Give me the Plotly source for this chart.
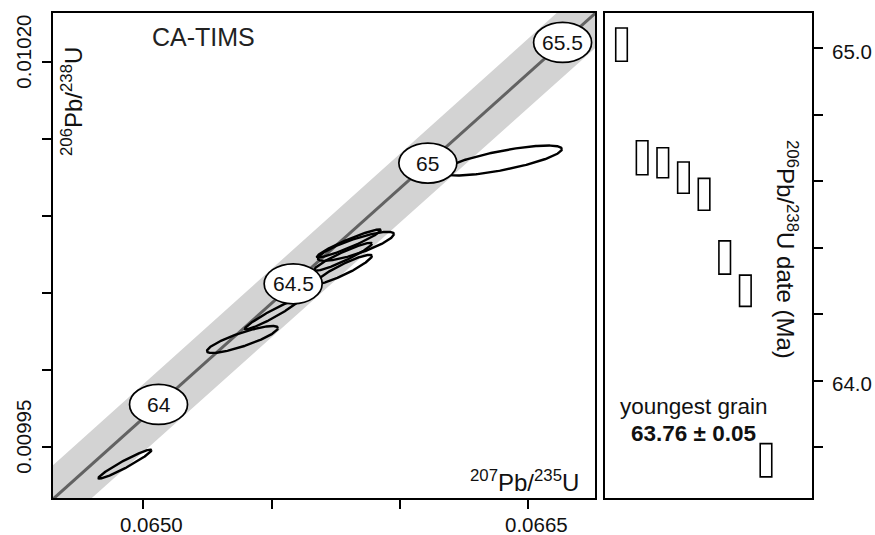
import numpy as np
import plotly.graph_objects as go

# Decay constants (1/yr) and concordia envelope
LAMBDA238 = 1.55125e-10
LAMBDA235 = 9.8485e-10
LAMBDA235_BAND = 0.0022          # relative half-width of the grey concordia envelope
K95 = 2.4477                     # 95% confidence scaling for 2-D error ellipses

# CA-TIMS zircon analyses (1-sigma errors, error correlation)
pb207_u235 = [0.0649285, 0.0653863, 0.0655012, 0.0658012, 0.0658285, 0.0657778, 0.0657817, 0.0663973]
pb207_u235_err = [4.22e-5, 5.65e-5, 4.30e-5, 5.09e-5, 6.05e-5, 4.62e-5, 4.46e-5, 9.55e-5]
pb206_u238 = [0.0099387, 0.0100196, 0.0100359, 0.0100820, 0.0100801, 0.0100733, 0.0100652, 0.0101358]
pb206_u238_err = [3.85e-6, 3.58e-6, 3.98e-6, 3.71e-6, 3.85e-6, 3.71e-6, 3.85e-6, 3.98e-6]
err_corr = [0.96, 0.85, 0.96, 0.95, 0.84, 0.94, 0.92, 0.76]

# Ranked 206Pb/238U dates (Ma) with 95% uncertainties
dates_ma = [65.01, 64.67, 64.655, 64.61, 64.56, 64.37, 64.27, 63.76]
dates_err = [0.05, 0.051, 0.045, 0.047, 0.048, 0.05, 0.047, 0.05]

# Concordia age markers (Ma)
concordia_label_ages = [64.0, 64.5, 65.0, 65.5]

# Axes
x_range = [0.064648, 0.066760]
y_range = [0.0099167, 0.0102316]
date_range = [63.6466, 65.1053]
rank_range = [0.2, 10.23]
x_tick_vals = [0.0650, 0.0655, 0.0660, 0.0665]
x_tick_text = ["0.0650", "", "", "0.0665"]
y_tick_vals = [0.00995, 0.01000, 0.01005, 0.01010, 0.01015, 0.01020]
y_tick_text = ["0.00995", "", "", "", "", "0.01020"]
date_tick_vals = [63.8, 64.0, 64.2, 64.4, 64.6, 64.8, 65.0]
date_tick_text = ["", "64.0", "", "", "", "", "65.0"]

FONT = "Liberation Sans, Arial, sans-serif"
INK = "#111111"


def concordia(t_ma, lam235=LAMBDA235):
    t = np.asarray(t_ma) * 1e6
    return np.expm1(lam235 * t), np.expm1(LAMBDA238 * t)


def label(text, size, **kw):
    base = dict(text=text, showarrow=False, xanchor="center", yanchor="middle",
                font=dict(family=FONT, size=size, color=INK))
    base.update(kw)
    return base


fig = go.Figure()

# Concordia envelope and curve
t_curve = np.linspace(63.3, 65.9, 400)
xl, yl = concordia(t_curve, LAMBDA235 * (1 - LAMBDA235_BAND))
xh, yh = concordia(t_curve, LAMBDA235 * (1 + LAMBDA235_BAND))
fig.add_trace(go.Scatter(
    x=np.concatenate([xl, xh[::-1]]), y=np.concatenate([yl, yh[::-1]]),
    fill="toself", fillcolor="rgb(211,211,211)", line=dict(width=0),
    mode="lines", hoverinfo="skip", xaxis="x", yaxis="y"))
cx, cy = concordia(t_curve)
fig.add_trace(go.Scatter(x=cx, y=cy, mode="lines",
                         line=dict(color="#626262", width=3),
                         hoverinfo="skip", xaxis="x", yaxis="y"))

# 95% error ellipses
theta = np.linspace(0, 2 * np.pi, 241)
ex, ey = [], []
for x, sx, y, sy, r in zip(pb207_u235, pb207_u235_err, pb206_u238, pb206_u238_err, err_corr):
    ex += list(x + K95 * sx * np.cos(theta)) + [None]
    ey += list(y + K95 * sy * (r * np.cos(theta) + np.sqrt(1 - r * r) * np.sin(theta))) + [None]
fig.add_trace(go.Scatter(x=ex, y=ey, mode="lines", line=dict(color="black", width=2.4),
                         hoverinfo="skip", xaxis="x", yaxis="y"))

# Ranked date bars
ranks = list(range(1, len(dates_ma) + 1))
fig.add_trace(go.Bar(
    x=ranks, y=[2 * e for e in dates_err], base=[d - e for d, e in zip(dates_ma, dates_err)],
    width=0.56, marker=dict(color="white", line=dict(color="black", width=1.6)),
    xaxis="x2", yaxis="y2", hoverinfo="skip"))

shapes = []
annotations = []

# Concordia age markers
lx, ly = concordia(concordia_label_ages)
for age, x, y in zip(concordia_label_ages, lx, ly):
    shapes.append(dict(type="circle", xref="x", yref="y", xsizemode="pixel", ysizemode="pixel",
                       xanchor=x, yanchor=y, x0=-29, x1=29, y0=-20, y1=20,
                       fillcolor="white", line=dict(color="black", width=1.7), layer="above"))
    annotations.append(label(f"{age:g}", 21, x=x, y=y, xref="x", yref="y"))

# Tick labels
for v, s in zip(x_tick_vals, x_tick_text):
    if s:
        annotations.append(label(s, 20.5, x=v, xref="x", y=0, yref="paper",
                                 xshift=8, yshift=-26))
for v, s in zip(y_tick_vals, y_tick_text):
    if s:
        annotations.append(label(s, 20.5, x=0, xref="paper", xshift=-29, y=v, yref="y",
                                 yshift=10, textangle=-90))
for v, s in zip(date_tick_vals, date_tick_text):
    if s:
        annotations.append(label(s, 20.5, x=1, xref="paper", xshift=40, y=v, yref="y2",
                                 yshift=-3))

# Axis titles and panel text
annotations += [
    label("<sup>207</sup>Pb/<sup>235</sup>U", 24, x=1, xref="x domain", xanchor="right",
          xshift=-14, y=0, yref="y domain", yshift=17),
    label("<sup>206</sup>Pb/<sup>238</sup>U", 24, x=0, xref="x domain", xshift=19,
          y=1, yref="y domain", yshift=-89, textangle=-90),
    label("<sup>206</sup>Pb/<sup>238</sup>U date (Ma)", 24, x=1, xref="paper", xshift=-25,
          y=1, yref="paper", yshift=-236, textangle=90),
    label("CA-TIMS", 25, x=0, xref="x domain", xshift=150, y=1, yref="y domain",
          yshift=-23.5, font=dict(family=FONT, size=25, color="#222222")),
    label("youngest grain", 22.5, x=0, xref="x2 domain", xshift=88.5, y=1,
          yref="y2 domain", yshift=-393),
]
i_young = int(np.argmin(dates_ma))
annotations.append(label(f"<b>{dates_ma[i_young]:.2f} ± {dates_err[i_young]:.2f}</b>", 22.5,
                         x=0, xref="x2 domain", xshift=88.5, y=1, yref="y2 domain",
                         yshift=-420.5))

frame = dict(showline=True, mirror=True, linecolor="black", linewidth=2, showgrid=False,
             zeroline=False, ticks="outside", ticklen=9, tickwidth=1.6, tickcolor="black",
             showticklabels=False)

fig.update_layout(
    width=875, height=535,
    margin=dict(l=53, r=63, t=13, b=37),
    paper_bgcolor="white", plot_bgcolor="white",
    showlegend=False,
    xaxis=dict(domain=[0, 542 / 759], range=x_range, tickvals=x_tick_vals, anchor="y", **frame),
    yaxis=dict(domain=[0, 1], range=y_range, tickvals=y_tick_vals, anchor="x", **frame),
    xaxis2=dict(domain=[552 / 759, 1], range=rank_range, anchor="y2",
                **{**frame, "ticks": ""}),
    yaxis2=dict(domain=[0, 1], range=date_range, tickvals=date_tick_vals, anchor="x2",
                side="right", **frame),
    shapes=shapes,
    annotations=annotations,
)

fig.write_html("out.html")
